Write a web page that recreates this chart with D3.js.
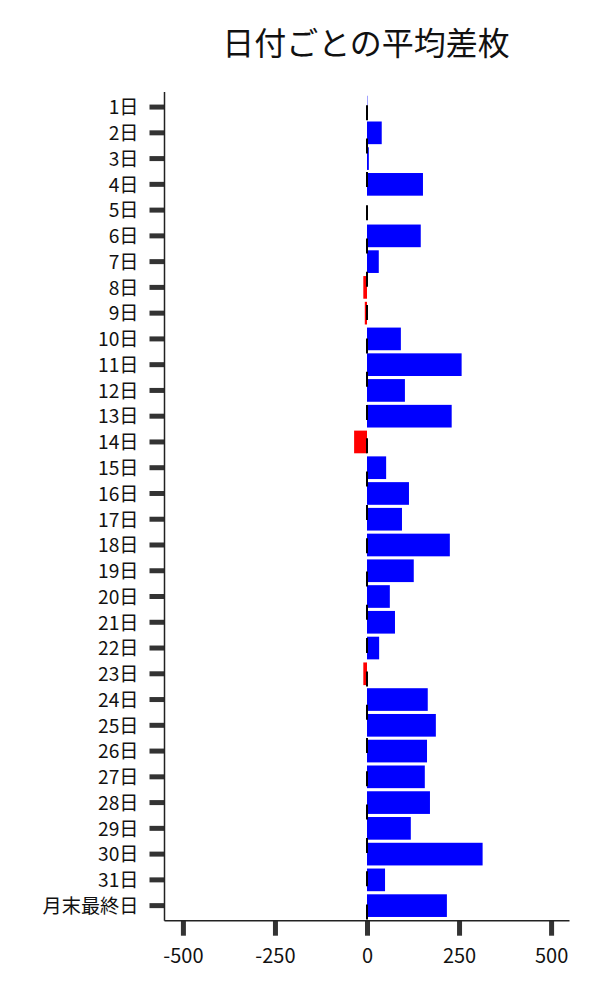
<!DOCTYPE html>
<html>
<head>
<meta charset="utf-8">
<script src="https://cdn.jsdelivr.net/npm/d3@7"></script>
<style>
  body { margin: 0; background: #fff; }
  text { font-family: "Noto Sans CJK JP", "Noto Sans", sans-serif; }
</style>
</head>
<body>
<svg id="chart" width="600" height="1000"></svg>
<script>
// day labels and average diff per day
var days = ["1日","2日","3日","4日","5日","6日","7日","8日","9日","10日",
  "11日","12日","13日","14日","15日","16日","17日","18日","19日","20日",
  "21日","22日","23日","24日","25日","26日","27日","28日","29日","30日",
  "31日","月末最終日"];
var avg_diff = [1, 40, 5, 152, 0, 146, 32, -10, -6, 92,
  257, 103, 230, -35, 52, 114, 95, 225, 127, 62,
  76, 33, -10, 165, 187, 163, 157, 171, 119, 314,
  49, 217];
var x_ticks = [-500, -250, 0, 250, 500];
var title = "日付ごとの平均差枚";

function draw_chart() {
  var svg = d3.select("#chart");
  var m_left = 164.5, m_right = 569.5, m_top = 92, m_bottom = 920.7;

  var x = d3.scaleLinear().domain([-550, 550]).range([m_left, m_right]);
  var y = d3.scaleBand().domain(days).range([m_top, m_bottom])
      .paddingInner(0.12).paddingOuter(0.145);

  var rows = days.map(function(d, i) { return {name: d, value: avg_diff[i]}; });

  svg.append("text")
      .attr("x", 366)
      .attr("y", 55)
      .attr("text-anchor", "middle")
      .style("font-size", "32px")
      .style("fill", "#111")
      .text(title);

  // bars
  svg.selectAll(".bar")
      .data(rows)
    .enter().append("rect")
      .attr("class", "bar")
      .attr("x", function(d) { return x(Math.min(0, d.value)); })
      .attr("y", function(d) { return y(d.name); })
      .attr("width", function(d) { return Math.abs(x(d.value) - x(0)); })
      .attr("height", y.bandwidth())
      .style("fill", function(d) { return d.value < 0 ? "#ff0000" : "#0000ff"; });

  // y axis
  var yAxis = svg.append("g")
      .attr("transform", "translate(" + m_left + ",0)")
      .call(d3.axisLeft(y).tickSize(15).tickPadding(11));
  yAxis.select(".domain").remove();
  yAxis.selectAll(".tick line").attr("stroke", "#333").attr("stroke-width", 5);
  yAxis.selectAll(".tick text")
      .attr("dy", "0.38em")
      .style("font-size", "19.2px")
      .style("fill", "#111")
      .style("font-family", "'Noto Sans CJK JP', sans-serif");

  // x axis
  var xAxis = svg.append("g")
      .attr("transform", "translate(0," + m_bottom + ")")
      .call(d3.axisBottom(x).tickValues(x_ticks)
        .tickFormat(function(d) { return String(d); })
        .tickSize(15).tickPadding(13));
  xAxis.select(".domain").remove();
  xAxis.selectAll(".tick line").attr("stroke", "#333").attr("stroke-width", 5);
  xAxis.selectAll(".tick text")
      .style("font-size", "20px")
      .style("fill", "#111")
      .style("font-family", "'Noto Sans CJK JP', sans-serif");

  // frame lines
  svg.append("line")
      .attr("x1", m_left).attr("x2", m_left)
      .attr("y1", m_top).attr("y2", m_bottom)
      .attr("stroke", "#222").attr("stroke-width", 1.5);
  svg.append("line")
      .attr("x1", m_left).attr("x2", m_right)
      .attr("y1", m_bottom).attr("y2", m_bottom)
      .attr("stroke", "#222").attr("stroke-width", 1.5);

  // dashed zero line
  svg.append("line")
      .attr("x1", x(0)).attr("x2", x(0))
      .attr("y1", m_top).attr("y2", m_bottom)
      .attr("stroke", "#000")
      .attr("stroke-width", 2)
      .attr("stroke-dasharray", "15,18.3")
      .attr("stroke-dashoffset", 20);
}

draw_chart();
</script>
</body>
</html>
